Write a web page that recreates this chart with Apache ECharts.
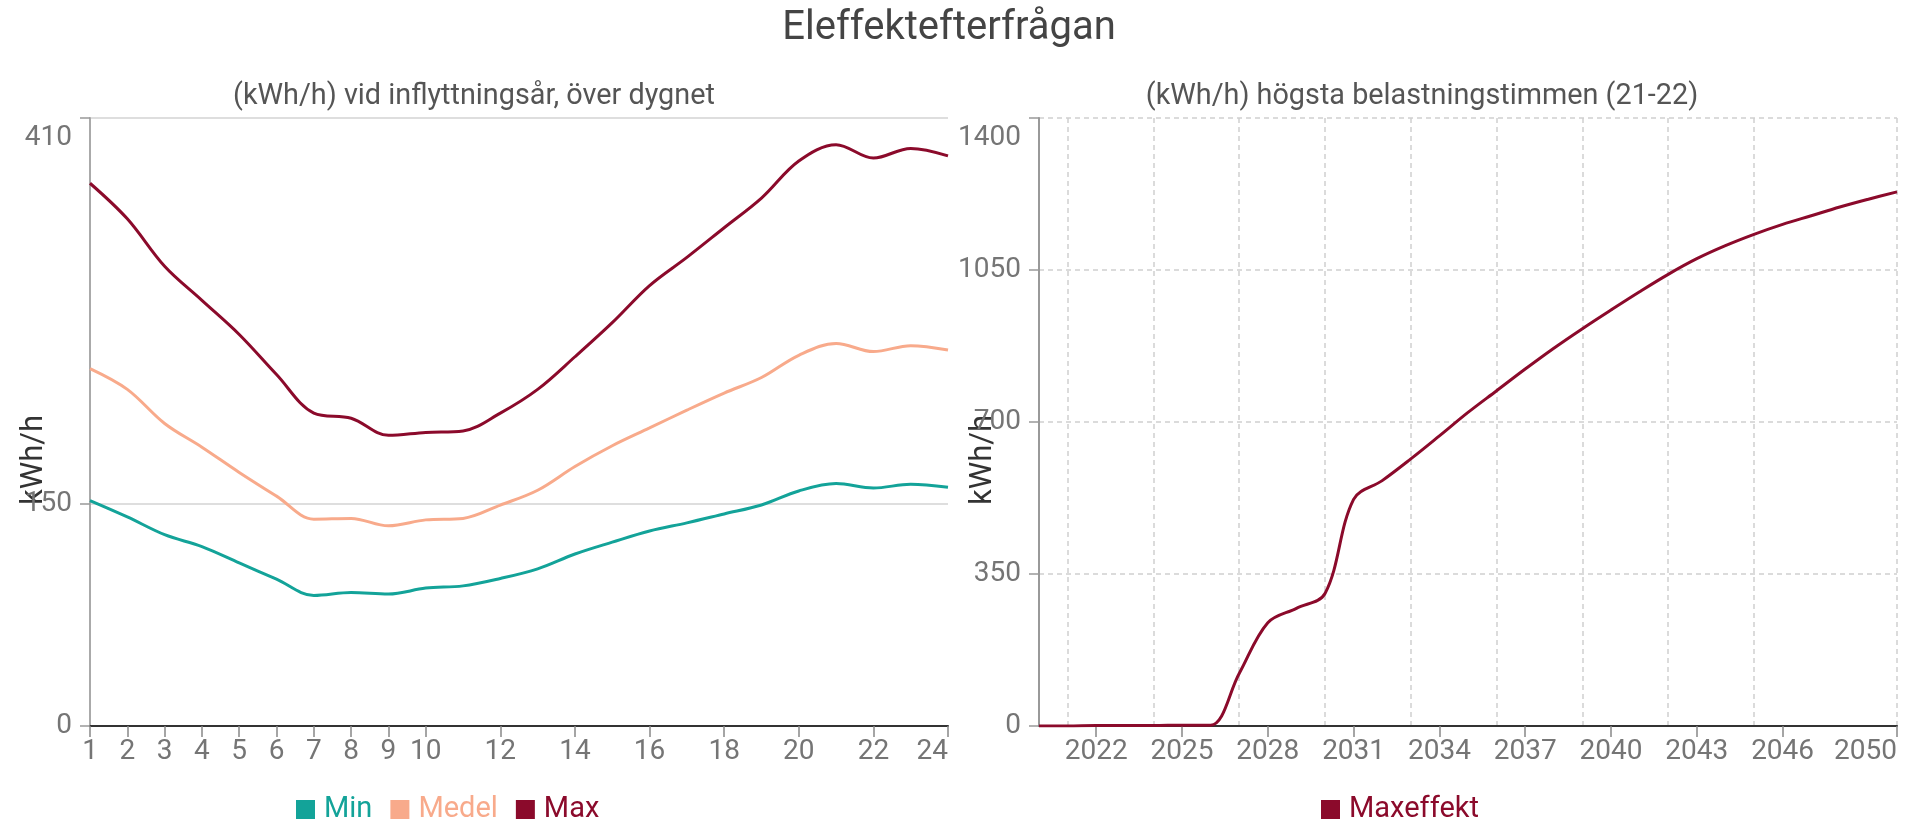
<!DOCTYPE html>
<html>
<head>
<meta charset="utf-8">
<script src="https://cdn.jsdelivr.net/npm/echarts@6/dist/echarts.min.js"></script>
<style>
  html, body { margin: 0; padding: 0; background: #fff; }
  #chart { width: 1908px; height: 822px; }
</style>
</head>
<body>
<div id="chart"></div>
<script>
// Hours of the day (left panel)
const hours = ['1','2','3','4','5','6','7','8','9','10','11','12','13','14','15','16','17','18','19','20','21','22','23','24'];
// Load per hour, kWh/h
const minLoad   = [152, 141, 129, 121, 110, 99, 88, 90, 89, 93, 94.5, 99.5, 106, 116, 124, 131.5, 137, 143, 149, 158.5, 163.5, 160.5, 163, 161];
const medelLoad = [241, 227, 204, 188, 171, 155, 139.5, 140, 135, 139, 140, 149, 159, 175, 189, 201, 213, 224.5, 235, 250, 258, 252.5, 256.5, 253.5];
const maxLoad   = [366, 342, 310, 287, 264, 237, 211, 207.5, 196, 198, 199, 211, 227, 249, 272, 297, 316, 336, 356, 381, 392, 383, 389.5, 384.5];
const dayTicks  = [0, 150, 410];

// Peak hour demand per year (right panel)
const years     = [2020, 2021, 2022, 2023, 2024, 2025, 2026, 2027, 2028, 2029, 2030, 2031, 2032, 2033, 2034, 2035,
                   2036, 2037, 2038, 2039, 2040, 2041, 2042, 2043, 2044, 2045, 2046, 2047, 2048, 2049, 2050];
const maxEffekt = [0, 0, 1, 1, 1, 2, 2, 121, 238, 271, 305, 522, 565, 615, 668, 722,
                   772, 822, 870, 915, 958, 1000, 1040, 1076, 1106, 1132, 1155, 1175, 1195, 1213, 1230];
const yearLabels = [2022, 2025, 2028, 2031, 2034, 2037, 2040, 2043, 2046, 2050];
const yearGrid   = [2021, 2024, 2027, 2030, 2033, 2036, 2039, 2042, 2045, 2050];

const FONT = 'Roboto, sans-serif';
const C_MIN = '#13a399';
const C_MEDEL = '#f8aa8b';
const C_MAX = '#8b0a2b';
const LABEL_GREY = '#757575';

const chart = echarts.init(document.getElementById('chart'), null, { renderer: 'canvas' });

// Pushes the topmost value label below the top edge of the plot
function topLabel(maxValue) {
  return function (v) { return v === maxValue ? '{top|' + v + '}' : String(v); };
}
const topRich = { top: { padding: [40, 0, 0, 0], fontSize: 28, color: LABEL_GREY, fontFamily: FONT } };

const hourLabelShown = function (idx) { return idx < 10 || (idx + 1) % 2 === 0; };

const legendText = { fontSize: 29, fontFamily: FONT, padding: [0, 0, 0, 4] };

chart.setOption({
  animation: false,
  textStyle: { fontFamily: FONT },
  title: [
    { text: 'Eleffektefterfrågan', left: 949, top: 9, textAlign: 'center', padding: 0,
      textStyle: { fontSize: 40, fontWeight: 'normal', color: '#444', fontFamily: FONT } },
    { text: '(kWh/h) vid inflyttningsår, över dygnet', left: 474, top: 82, textAlign: 'center', padding: 0,
      textStyle: { fontSize: 28.8, fontWeight: 'normal', color: '#555', fontFamily: FONT } },
    { text: '(kWh/h) högsta belastningstimmen (21-22)', left: 1422, top: 82, textAlign: 'center', padding: 0,
      textStyle: { fontSize: 28.8, fontWeight: 'normal', color: '#555', fontFamily: FONT } }
  ],
  legend: [
    { data: [
        { name: 'Min', textStyle: { color: C_MIN } },
        { name: 'Medel', textStyle: { color: C_MEDEL } },
        { name: 'Max', textStyle: { color: C_MAX } }
      ],
      left: 296, top: 795, padding: 0, icon: 'rect', itemWidth: 19, itemHeight: 19, itemGap: 18,
      textStyle: legendText },
    { data: [ { name: 'Maxeffekt', textStyle: { color: C_MAX } } ],
      left: 1321, top: 795, padding: 0, icon: 'rect', itemWidth: 19, itemHeight: 19,
      textStyle: legendText }
  ],
  grid: [
    { left: 90, top: 118, width: 858, height: 608, containLabel: false },
    { left: 1039, top: 118, width: 858, height: 608, containLabel: false }
  ],
  xAxis: [
    { gridIndex: 0, type: 'category', data: hours, boundaryGap: false,
      axisLine: { lineStyle: { color: '#333', width: 2 } },
      axisTick: { interval: hourLabelShown, length: 11, lineStyle: { color: '#888', width: 1.5 } },
      axisLabel: { interval: hourLabelShown, margin: 12, fontSize: 28, color: LABEL_GREY, fontFamily: FONT, alignMaxLabel: 'right' },
      splitLine: { show: false } },
    { gridIndex: 1, type: 'value', min: 2020, max: 2050,
      axisLine: { lineStyle: { color: '#333', width: 2 } },
      axisTick: { customValues: yearLabels, length: 11, lineStyle: { color: '#888', width: 1.5 } },
      axisLabel: { customValues: yearLabels, margin: 12, fontSize: 28, color: LABEL_GREY, fontFamily: FONT,
                   alignMaxLabel: 'right', formatter: function (v) { return String(v); } },
      splitLine: { show: false } },
    // vertical dashed grid of the right panel
    { gridIndex: 1, type: 'value', min: 2020, max: 2050, position: 'bottom',
      axisLine: { show: false },
      axisTick: { show: false, customValues: yearGrid },
      axisLabel: { show: false },
      splitLine: { show: true, lineStyle: { color: '#d0d0d0', width: 1.5, type: [5, 4] } } }
  ],
  yAxis: [
    { gridIndex: 0, type: 'value', min: 0, max: 410,
      axisLine: { show: true, lineStyle: { color: '#aaa', width: 2 } },
      axisTick: { show: true, customValues: dayTicks, length: 10, lineStyle: { color: '#999', width: 1.5 } },
      axisLabel: { customValues: dayTicks, margin: 18, fontSize: 28, color: LABEL_GREY, fontFamily: FONT,
                   formatter: topLabel(410), rich: topRich },
      splitLine: { show: true, lineStyle: { color: '#dedede', width: 2 } } },
    { gridIndex: 1, type: 'value', min: 0, max: 1400, interval: 350,
      axisLine: { show: true, lineStyle: { color: '#999', width: 2 } },
      axisTick: { show: true, length: 10, lineStyle: { color: '#999', width: 1.5 } },
      axisLabel: { margin: 18, fontSize: 28, color: LABEL_GREY, fontFamily: FONT,
                   formatter: topLabel(1400), rich: topRich },
      splitLine: { show: true, lineStyle: { color: '#d0d0d0', width: 1.5, type: [5, 4] } } }
  ],
  graphic: [
    { type: 'text', x: 34, y: 460, rotation: Math.PI / 2, silent: true,
      style: { text: 'kWh/h', fontSize: 31, fontFamily: FONT, fill: '#333', align: 'center', verticalAlign: 'middle' } },
    { type: 'text', x: 983, y: 460, rotation: Math.PI / 2, silent: true,
      style: { text: 'kWh/h', fontSize: 31, fontFamily: FONT, fill: '#333', align: 'center', verticalAlign: 'middle' } }
  ],
  series: [
    { name: 'Min', type: 'line', xAxisIndex: 0, yAxisIndex: 0, data: minLoad, smooth: 0.35,
      showSymbol: false, color: C_MIN, lineStyle: { color: C_MIN, width: 3 } },
    { name: 'Medel', type: 'line', xAxisIndex: 0, yAxisIndex: 0, data: medelLoad, smooth: 0.35,
      showSymbol: false, color: C_MEDEL, lineStyle: { color: C_MEDEL, width: 3 } },
    { name: 'Max', type: 'line', xAxisIndex: 0, yAxisIndex: 0, data: maxLoad, smooth: 0.35,
      showSymbol: false, color: C_MAX, lineStyle: { color: C_MAX, width: 3 } },
    { name: 'Maxeffekt', type: 'line', xAxisIndex: 1, yAxisIndex: 1,
      data: years.map(function (y, i) { return [y, maxEffekt[i]]; }), smooth: 0.35,
      showSymbol: false, color: C_MAX, lineStyle: { color: C_MAX, width: 3 } }
  ]
});
</script>
</body>
</html>
